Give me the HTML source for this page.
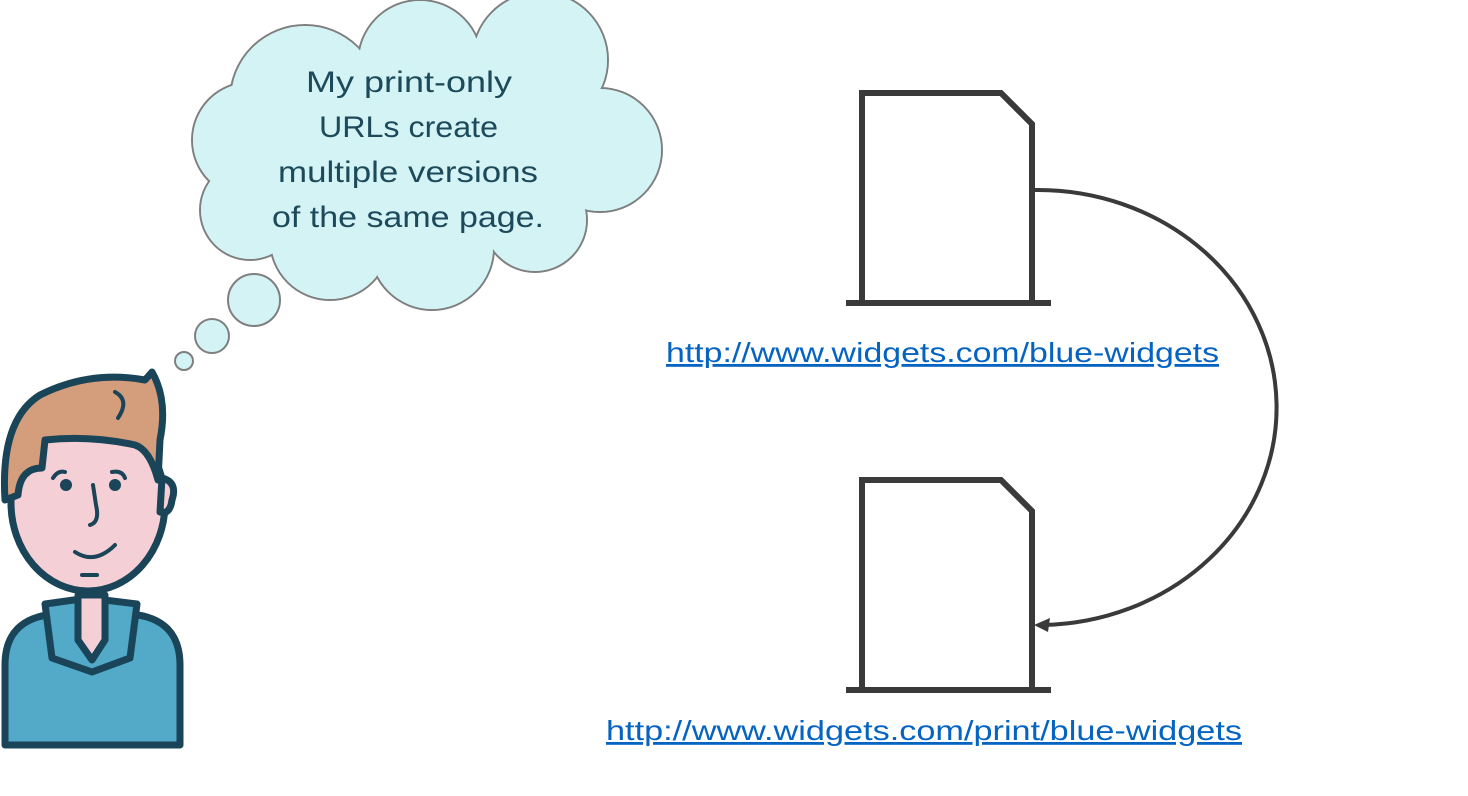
<!DOCTYPE html>
<html><head><style>
body{margin:0;background:#fff;}
svg{display:block;}
</style></head><body>
<svg width="1468" height="796" viewBox="0 0 1468 796" xmlns="http://www.w3.org/2000/svg">
<!-- cloud -->
<g stroke="#7f7f7f" stroke-width="2" fill="#d3f3f5">
<circle cx="305" cy="100" r="75"/>
<circle cx="420" cy="62" r="62"/>
<circle cx="540" cy="60" r="68"/>
<circle cx="600" cy="150" r="62"/>
<circle cx="250" cy="140" r="58"/>
<circle cx="250" cy="210" r="50"/>
<circle cx="330" cy="240" r="60"/>
<circle cx="432" cy="248" r="62"/>
<circle cx="535" cy="220" r="52"/>
</g>
<g fill="#d3f3f5">
<circle cx="305" cy="100" r="74"/>
<circle cx="420" cy="62" r="61"/>
<circle cx="540" cy="60" r="67"/>
<circle cx="600" cy="150" r="61"/>
<circle cx="250" cy="140" r="57"/>
<circle cx="250" cy="210" r="49"/>
<circle cx="330" cy="240" r="59"/>
<circle cx="432" cy="248" r="61"/>
<circle cx="535" cy="220" r="51"/>
<ellipse cx="420" cy="160" rx="170" ry="95"/>
</g>
<g stroke="#7f7f7f" stroke-width="2" fill="#d3f3f5">
<circle cx="254" cy="300" r="26"/>
<circle cx="212" cy="336" r="17"/>
<circle cx="184" cy="361" r="9"/>
</g>
<g font-family="Liberation Sans, sans-serif" font-size="30" fill="#1d4a5a" lengthAdjust="spacingAndGlyphs">
<text x="306" y="92" textLength="206" lengthAdjust="spacingAndGlyphs">My print-only</text>
<text x="319" y="137" textLength="179" lengthAdjust="spacingAndGlyphs">URLs create</text>
<text x="278" y="182" textLength="260" lengthAdjust="spacingAndGlyphs">multiple versions</text>
<text x="272" y="227" textLength="272" lengthAdjust="spacingAndGlyphs">of the same page.</text>
</g>
<!-- documents -->
<g stroke="#3a3a3a" stroke-width="6" fill="none">
<path d="M862,303 L862,93 L1001,93 L1032,124 L1032,303"/>
<line x1="846" y1="303" x2="1051" y2="303"/>
<path d="M862,690 L862,480 L1001,480 L1032,511 L1032,690"/>
<line x1="846" y1="690" x2="1051" y2="690"/>
</g>
<path d="M1034,190 A238,217 0 0 1 1042,625" stroke="#3a3a3a" stroke-width="4" fill="none"/>
<polygon points="1034,625 1050,618 1048,632" fill="#3a3a3a"/>
<g font-family="Liberation Sans, sans-serif" font-size="28" fill="#0563c1">
<text x="666" y="362" textLength="553" lengthAdjust="spacingAndGlyphs" text-decoration="underline">http://www.widgets.com/blue-widgets</text>
<text x="606" y="740" textLength="636" lengthAdjust="spacingAndGlyphs" text-decoration="underline">http://www.widgets.com/print/blue-widgets</text>
</g>
<!-- person -->
<g stroke="#1a4458" stroke-width="7" stroke-linejoin="round">
<path d="M5,745 L5,665 Q5,618 55,614 L130,614 Q180,618 180,665 L180,745 Z" fill="#52a9c8"/>
<path d="M45,604 L88,598 L137,604 L130,658 L92,672 L52,658 Z" fill="#52a9c8"/>
<path d="M78,595 L105,595 L105,640 L92,660 L78,640 Z" fill="#f5cfd6"/>
<ellipse cx="88" cy="503" rx="77" ry="88" fill="#f5cfd6"/>
<path d="M162,478 Q178,482 172,500 Q170,515 160,512 Z" fill="#f5cfd6"/>
<path d="M5,500 Q0,420 40,395 Q90,370 145,380 L152,372 Q168,400 160,440 L158,480 Q150,450 135,445 Q90,435 45,440 L42,468 Q20,468 18,495 Z" fill="#d49d7c"/>
</g>
<g stroke="#1a4458" stroke-width="4" fill="none" stroke-linecap="round">
<path d="M75,552 Q95,565 115,545"/>
<path d="M93,485 L96,505 Q100,522 90,525"/>
<path d="M53,478 Q58,470 65,472"/>
<path d="M112,472 Q122,470 125,478"/>
<path d="M115,392 Q130,400 118,418"/>
<line x1="82" y1="575" x2="97" y2="575"/>
</g>
<circle cx="66" cy="485" r="6" fill="#1a4458"/>
<circle cx="115" cy="485" r="6" fill="#1a4458"/>
</svg>
</body></html>
